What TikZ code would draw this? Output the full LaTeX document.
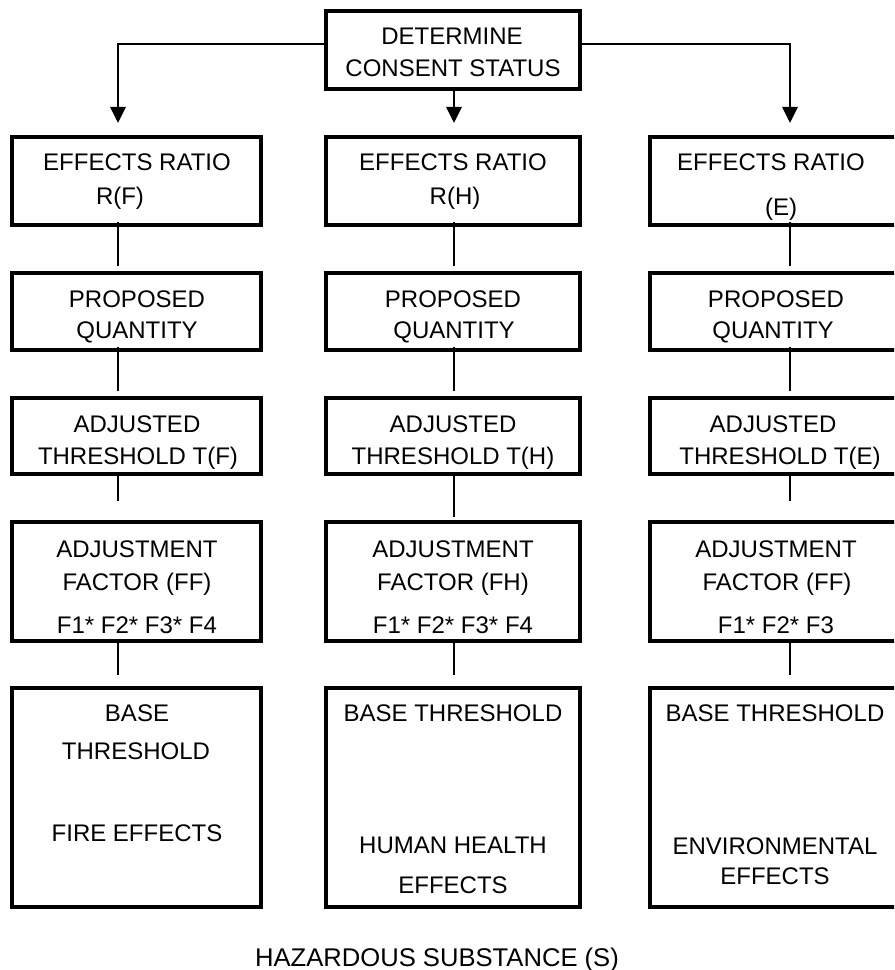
\documentclass[tikz,border=0pt]{standalone}
\usepackage{fontspec}
\setmainfont{Liberation Sans}
\usetikzlibrary{arrows.meta,calc}
\tikzset{
  bx/.style n args={2}{draw=black, line width=3.5pt, inner sep=0pt,
    minimum width=#1*0.75pt, minimum height=#2*0.75pt},
  conn/.style={draw=black, line width=1.2pt},
  arr/.style={conn, -{Triangle[length=12pt,width=11.5pt]}},
  lbl/.style={anchor=base, inner sep=0pt, font=\fontsize{18pt}{22pt}\selectfont},
  biglbl/.style={anchor=base, inner sep=0pt, font=\fontsize{19.2pt}{23pt}\selectfont}
}
\begin{document}
\begin{tikzpicture}[x=0.75pt,y=-0.75pt]
\useasboundingbox (0,0) rectangle (894,970);
\clip (0,0) rectangle (894,970);
% column x of connectors
\coordinate (xL) at (118,0);
\coordinate (xM) at (454,0);
\coordinate (xR) at (790,0);
% boxes
\node[bx={254}{78}] (top) at (453,50) {};
\node[bx={249}{88}] (L1) at (136.5,181) {};
\node[bx={254}{88}] (M1) at (453,181) {};
\node[bx={250}{88}] (R1) at (775,181) {};
\node[bx={249}{77}] (L2) at (136.5,311.5) {};
\node[bx={254}{77}] (M2) at (453,311.5) {};
\node[bx={250}{77}] (R2) at (775,311.5) {};
\node[bx={249}{76}] (L3) at (136.5,436) {};
\node[bx={254}{76}] (M3) at (453,436) {};
\node[bx={250}{76}] (R3) at (775,436) {};
\node[bx={249}{119}] (L4) at (136.5,581.5) {};
\node[bx={254}{119}] (M4) at (453,581.5) {};
\node[bx={250}{119}] (R4) at (775,581.5) {};
\node[bx={249}{219}] (L5) at (136.5,797.5) {};
\node[bx={254}{219}] (M5) at (453,797.5) {};
\node[bx={250}{219}] (R5) at (775,797.5) {};
% arrows from top box
\coordinate (aL) at (118,123);
\coordinate (aM) at (454,123);
\coordinate (aR) at (790,123);
\draw[arr] ($(top.west)+(0,-6)$) -| (aL);
\draw[arr] ($(top.east)+(0,-6)$) -| (aR);
\draw[arr] (top.south -| xM) -- (aM);
% vertical connectors
\foreach \c/\x in {L/xL,M/xM,R/xR}{
  \draw[conn] ($(\c1.south -| \x)+(0,-5)$) -- ($(\c2.north -| \x)+(0,-5)$);
  \draw[conn] ($(\c2.south -| \x)+(0,-5)$) -- ($(\c3.north -| \x)+(0,-5)$);
  \draw[conn] (\c4.south -| \x) -- ($(\c5.north -| \x)+(0,-11)$);
}
\draw[conn] ($(L3.south -| xL)+(0,-4)$) -- ($(L4.north -| xL)+(0,-19)$);
\draw[conn] ($(M3.south -| xM)+(0,-4)$) -- ($(M4.north -| xM)+(0,-3)$);
\draw[conn] ($(R3.south -| xR)+(0,-4)$) -- ($(R4.north -| xR)+(0,-19)$);
% texts (baseline y)
\node[lbl] (t1) at (452,45) {DETERMINE};
\node[lbl] (t2) at (453,77) {CONSENT STATUS};
\node[lbl] (l1a) at (137,171) {EFFECTS RATIO};
\node[lbl] (l1b) at (120,204) {R(F)};
\node[lbl] (m1a) at (453,171) {EFFECTS RATIO};
\node[lbl] (m1b) at (455,204) {R(H)};
\node[lbl] (r1a) at (771,171) {EFFECTS RATIO};
\node[lbl] (r1b) at (781,215) {(E)};
\node[lbl] (l2a) at (137,307) {PROPOSED};
\node[lbl] (l2b) at (137,338) {QUANTITY};
\node[lbl] (m2a) at (453,307) {PROPOSED};
\node[lbl] (m2b) at (454,338) {QUANTITY};
\node[lbl] (r2a) at (776,307) {PROPOSED};
\node[lbl] (r2b) at (773,338) {QUANTITY};
\node[lbl] (l3a) at (137,432) {ADJUSTED};
\node[lbl] (l3b) at (138,464) {THRESHOLD T(F)};
\node[lbl] (m3a) at (453,432) {ADJUSTED};
\node[lbl] (m3b) at (453,464) {THRESHOLD T(H)};
\node[lbl] (r3a) at (773,432) {ADJUSTED};
\node[lbl] (r3b) at (780,464) {THRESHOLD T(E)};
\node[lbl] (l4a) at (137,557) {ADJUSTMENT};
\node[lbl] (l4b) at (137,590) {FACTOR (FF)};
\node[lbl] (l4c) at (137,633) {F1* F2* F3* F4};
\node[lbl] (m4a) at (453,557) {ADJUSTMENT};
\node[lbl] (m4b) at (453,590) {FACTOR (FH)};
\node[lbl] (m4c) at (453,633) {F1* F2* F3* F4};
\node[lbl] (r4a) at (776,557) {ADJUSTMENT};
\node[lbl] (r4b) at (777,590) {FACTOR (FF)};
\node[lbl] (r4c) at (776,633) {F1* F2* F3};
\node[lbl] (l5a) at (137,721) {BASE};
\node[lbl] (l5b) at (136,759) {THRESHOLD};
\node[lbl] (l5c) at (137,841) {FIRE EFFECTS};
\node[lbl] (m5a) at (453,721) {BASE THRESHOLD};
\node[lbl] (m5b) at (453,853) {HUMAN HEALTH};
\node[lbl] (m5c) at (453,893) {EFFECTS};
\node[lbl] (r5a) at (775,721) {BASE THRESHOLD};
\node[lbl] (r5b) at (775,854) {ENVIRONMENTAL};
\node[lbl] (r5c) at (775,884) {EFFECTS};
\node[biglbl] (haz) at (437,966) {HAZARDOUS SUBSTANCE (S)};
\end{tikzpicture}
\end{document}
